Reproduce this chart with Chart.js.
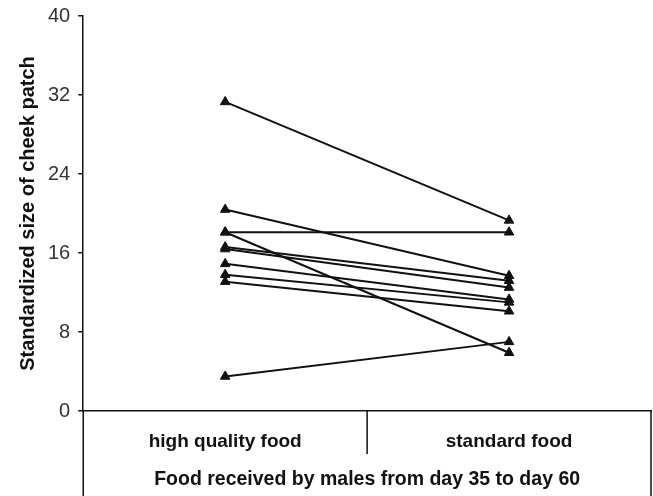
<!DOCTYPE html>
<html><head><meta charset="utf-8">
<script src="https://cdn.jsdelivr.net/npm/chart.js@4/dist/chart.umd.min.js"></script>
<style>html,body{margin:0;padding:0;background:#fff}#wrap{width:653px;height:496px}</style>
</head><body><div id="wrap"><canvas id="c"></canvas></div>
<script>
const categories = ["high quality food", "standard food"];
const highQuality = [31.3, 20.4, 18.1, 18.1, 16.6, 16.4, 14.9, 13.8, 13.1, 3.5];
const standardFood = [19.3, 13.7, 18.1, 5.9, 13.2, 12.5, 11.3, 11.0, 10.1, 7.0];
const yAxisTitle = "Standardized size of cheek patch";
const xAxisTitle = "Food received by males from day 35 to day 60";

const FONT = "'Liberation Sans', Arial, sans-serif";
const datasets = highQuality.map((v, i) => ({
  data: [v, standardFood[i]],
  borderColor: '#111', backgroundColor: '#111', borderWidth: 2,
  pointStyle: 'triangle', pointRadius: 5.5, pointBorderWidth: 1,
  tension: 0
}));

const tablePlugin = {
  id: 'table',
  afterDraw(chart) {
    const ctx = chart.ctx, a = chart.chartArea, H = chart.height;
    const xs = chart.scales.x;
    ctx.save();
    ctx.strokeStyle = '#111'; ctx.lineWidth = 1.5;
    ctx.beginPath();
    ctx.moveTo(a.left, a.bottom); ctx.lineTo(a.left, H);
    ctx.moveTo(a.right, a.bottom); ctx.lineTo(a.right, H);
    const mid = (a.left + a.right) / 2;
    ctx.moveTo(mid, a.bottom); ctx.lineTo(mid, a.bottom + 43);
    ctx.stroke();
    ctx.fillStyle = '#111';
    ctx.font = 'bold 19px ' + FONT;
    ctx.textAlign = 'center'; ctx.textBaseline = 'middle';
    categories.forEach((c, i) => {
      ctx.fillText(c, xs.getPixelForValue(i), a.bottom + 31);
    });
    ctx.font = 'bold 19.5px ' + FONT;
    ctx.fillText(xAxisTitle, mid, a.bottom + 69);
    ctx.restore();
  }
};

new Chart(document.getElementById('c'), {
  type: 'line',
  data: { labels: categories, datasets },
  plugins: [tablePlugin],
  options: {
    responsive: true, maintainAspectRatio: false, animation: false,
    layout: { autoPadding: false, padding: { top: 1, right: 2, bottom: 77, left: 16 } },
    plugins: { legend: { display: false }, tooltip: { enabled: false } },
    scales: {
      x: {
        type: 'category', offset: true,
        ticks: { display: false },
        grid: { display: false },
        border: { display: true, color: '#111', width: 1.5 }
      },
      y: {
        min: 0, max: 40,
        ticks: { stepSize: 8, color: '#333', font: { family: FONT, size: 20, lineHeight: 0.8 }, padding: 8 },
        grid: { drawOnChartArea: false, tickLength: 5, color: '#111', lineWidth: 1.5 },
        border: { display: true, color: '#111', width: 1.5 },
        title: { display: true, text: yAxisTitle, color: '#111', font: { family: FONT, size: 20, weight: 'bold' }, padding: { top: 0, bottom: 0 } }
      }
    }
  }
});
</script></body></html>
